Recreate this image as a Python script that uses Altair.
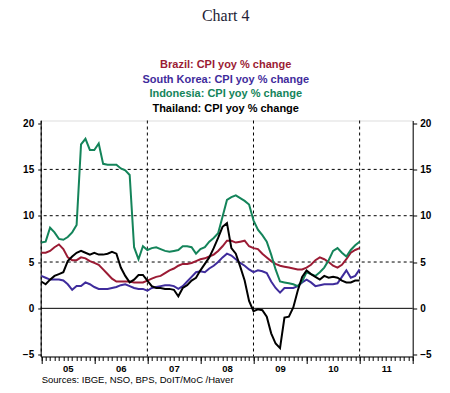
import altair as alt
import pandas as pd

# ---- data (monthly, Jan 2005 .. Jan 2011), CPI yoy % change ----
start_year = 2005
brazil = [6.0, 6.0, 6.2, 6.6, 6.9, 6.4, 5.5, 5.2, 5.2, 5.5, 5.4, 5.1,
          4.9, 4.7, 4.2, 3.7, 3.2, 2.9, 2.9, 2.9, 2.9, 2.8, 2.8, 2.8,
          3.0, 3.2, 3.4, 3.5, 3.8, 4.1, 4.3, 4.6, 4.8, 4.8, 4.9, 5.1,
          5.3, 5.4, 5.6, 5.8, 6.2, 6.7, 7.3, 7.3, 7.1, 7.2, 7.3, 6.7,
          6.5, 6.4, 5.9, 5.5, 5.1, 4.8, 4.6, 4.5, 4.4, 4.3, 4.2, 4.2,
          4.4, 4.7, 5.2, 5.5, 5.3, 5.0, 4.6, 4.4, 4.7, 5.3, 6.0, 6.3,
          6.5]
korea = [3.5, 3.3, 3.1, 3.1, 3.1, 3.0, 2.6, 2.0, 2.4, 2.4, 2.8, 2.6,
         2.3, 2.1, 2.1, 2.1, 2.2, 2.3, 2.5, 2.6, 2.4, 2.2, 2.1, 2.1,
         1.9, 2.2, 2.3, 2.4, 2.5, 2.5, 2.4, 2.1, 2.4, 2.9, 3.4, 3.9,
         4.0, 3.9, 4.3, 4.6, 5.0, 5.5, 5.9, 5.7, 5.3, 4.9, 4.6, 4.2,
         3.9, 4.1, 4.0, 3.8, 2.9, 2.2, 1.7, 2.2, 2.2, 2.2, 2.4, 2.8,
         3.1, 2.8, 2.4, 2.5, 2.6, 2.6, 2.6, 2.7, 3.4, 4.1, 3.3, 3.5,
         4.2]
indonesia = [7.1, 7.2, 8.7, 8.2, 7.5, 7.4, 7.7, 8.2, 9.0, 17.7, 18.3, 17.1,
             17.1, 17.8, 15.6, 15.5, 15.5, 15.5, 15.1, 14.9, 14.4, 6.6, 5.3, 6.7,
             6.3, 6.5, 6.6, 6.4, 6.2, 6.1, 6.2, 6.3, 6.7, 6.7, 6.6, 5.9,
             6.4, 6.6, 7.2, 7.6, 8.1, 9.9, 11.7, 12.0, 12.2, 11.9, 11.6, 11.2,
             9.5, 8.5, 7.9, 7.2, 5.8, 4.2, 2.9, 2.8, 2.7, 2.6, 2.4, 2.9,
             3.9, 3.7, 3.5, 3.9, 4.4, 5.2, 6.2, 6.5, 6.0, 5.6, 6.3, 6.8,
             7.2]
thailand = [2.9, 2.6, 3.1, 3.5, 3.7, 3.9, 5.1, 5.6, 6.0, 6.2, 6.0, 5.8,
            6.0, 5.8, 5.8, 5.9, 6.1, 5.9, 4.4, 3.5, 2.8, 3.1, 3.6, 3.6,
            3.0, 2.4, 2.2, 2.2, 2.1, 2.1, 2.0, 1.3, 2.2, 2.5, 3.0, 3.3,
            4.1, 4.8, 5.5, 6.5, 7.6, 8.8, 9.2, 6.5, 5.9, 4.5, 3.0, 0.8,
            -0.3, -0.1, -0.2, -0.9, -2.7, -3.8, -4.3, -1.0, -0.9, 0.1, 1.9, 3.4,
            4.1, 3.7, 3.4, 3.1, 3.5, 3.3, 3.4, 3.3, 3.0, 2.8, 2.8, 3.0,
            3.0]

countries = ["Brazil", "South Korea", "Indonesia", "Thailand"]
line_colors = ["#9b1b34", "#3f2c9c", "#14845a", "#000000"]
text_colors = ["#9b1b34", "#3f2c9c", "#14845a", "#000000"]
legend_labels = ["Brazil: CPI yoy % change", "South Korea: CPI yoy % change",
                 "Indonesia: CPI yoy % change", "Thailand: CPI yoy % change"]
title_text = "Chart 4"
source_text = "Sources:  IBGE, NSO, BPS, DoIT/MoC /Haver"

y_ticks = [-5, 0, 5, 10, 15, 20]
y_grid = [5, 10, 15]
x_grid = [2005, 2007, 2009, 2011]
year_ticks = list(range(2005, 2013))
month_ticks = [start_year + k / 12 for k in range(0, 85)]

series = [brazil, korea, indonesia, thailand]
rows = []
for name, vals in zip(countries, series):
    for i, v in enumerate(vals):
        rows.append({"t": start_year + i / 12, "country": name, "v": v})
df = pd.DataFrame(rows)

xs = alt.Scale(domain=[2004.99, 2012.0], nice=False, zero=False)
ys = alt.Scale(domain=[-5.2, 20.28], nice=False, zero=False)

axis_common = dict(labelFont="Liberation Sans", labelFontWeight="bold",
                   labelColor="black", domainColor="black",
                   tickColor="black", grid=False, title=None)

hgrid = alt.Chart(pd.DataFrame({"y": y_grid})).mark_rule(
    color="black", strokeDash=[3, 3], strokeWidth=1
).encode(
    y=alt.Y("y:Q", scale=ys,
            axis=alt.Axis(orient="left", values=y_ticks, tickSize=3,
                          labelPadding=4, labelFontSize=10, **axis_common))
)

zero = alt.Chart(pd.DataFrame({"y": [0]})).mark_rule(
    color="black", strokeWidth=1
).encode(y=alt.Y("y:Q", scale=ys, axis=None))

vgrid = alt.Chart(pd.DataFrame({"x": x_grid})).mark_rule(
    color="black", strokeDash=[3, 3], strokeWidth=1
).encode(
    x=alt.X("x:Q", scale=xs,
            axis=alt.Axis(orient="bottom", values=month_ticks, tickSize=4,
                          labelPadding=3, labelFontSize=9.5,
                          labelOverlap=False, labelFlush=False,
                          labelExpr="(round(datum.value*12) % 12 == 6) ? substring('' + floor(datum.value), 2, 4) : ''",
                          **axis_common))
)

lines = alt.Chart(df).mark_line(strokeWidth=2).encode(
    x=alt.X("t:Q", scale=xs,
            axis=alt.Axis(orient="bottom", values=year_ticks, tickSize=7,
                          labels=False, domain=False, **axis_common)),
    y=alt.Y("v:Q", scale=ys,
            axis=alt.Axis(orient="right", values=y_ticks, tickSize=4,
                          labelPadding=3, labelFontSize=10, **axis_common)),
    color=alt.Color("country:N", scale=alt.Scale(domain=countries, range=line_colors),
                    legend=None),
    order=alt.Order("t:Q"),
)

one = pd.DataFrame({"k": [0]})
texts = []
texts.append(alt.Chart(one).mark_text(
    text=title_text, font="Liberation Serif", fontSize=16, color="#1e1e36",
    align="center", baseline="alphabetic"
).encode(x=alt.value(185), y=alt.value(-99.5)))
for lab, col, yy in zip(legend_labels, text_colors, [-52.5, -37.5, -23.5, -8.5]):
    texts.append(alt.Chart(one).mark_text(
        text=lab, font="Liberation Sans", fontWeight="bold", fontSize=11,
        color=col, align="center", baseline="alphabetic"
    ).encode(x=alt.value(185), y=alt.value(yy)))
texts.append(alt.Chart(one).mark_text(
    text=source_text, font="Liberation Sans", fontSize=9.5, color="black",
    align="left", baseline="alphabetic"
).encode(x=alt.value(1), y=alt.value(262.5)))

chart = alt.layer(hgrid, zero, vgrid, lines, *texts).resolve_axis(
    x="independent", y="independent"
).properties(
    width=372, height=236,
    autosize=alt.AutoSizeParams(type="none"),
    padding={"left": 32.7, "top": 112.5, "right": 25, "bottom": 28},
).configure_view(stroke="black", strokeWidth=1).configure(background="white")

chart.save("out.html", embed_options={"renderer": "svg", "actions": False})
